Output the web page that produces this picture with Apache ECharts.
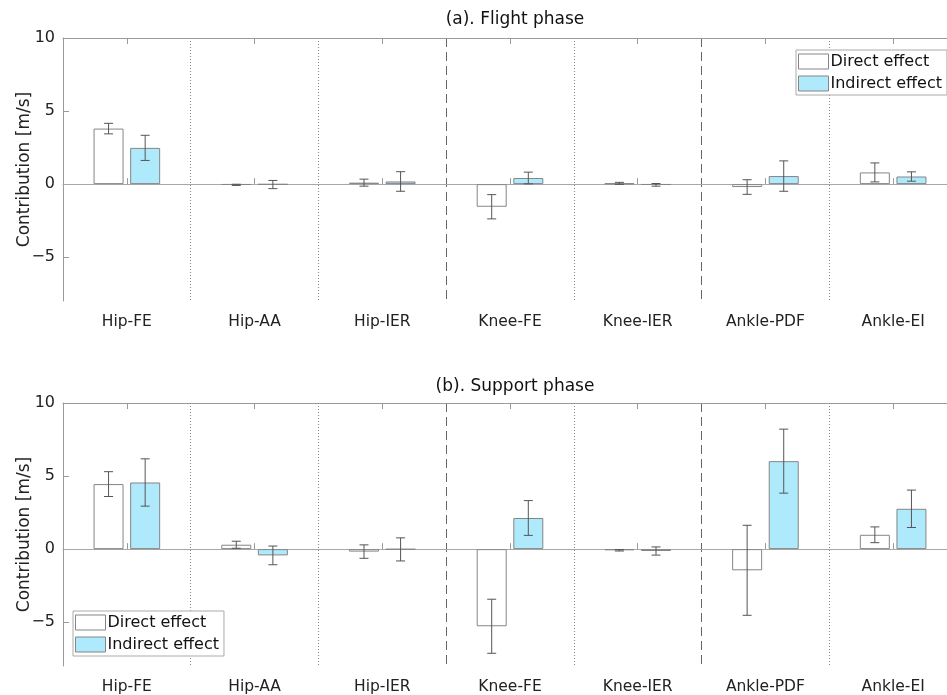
<!DOCTYPE html>
<html>
<head>
<meta charset="utf-8">
<script src="https://cdn.jsdelivr.net/npm/echarts@6/dist/echarts.min.js"></script>
<style>
html,body{margin:0;padding:0;background:#fff;}
#chart{width:947px;height:695px;}
</style>
</head>
<body>
<div id="chart"></div>
<script>
const categories = ['Hip-FE','Hip-AA','Hip-IER','Knee-FE','Knee-IER','Ankle-PDF','Ankle-EI'];
const yTicks = [-5, 0, 5, 10];
const seriesNames = ['Direct effect', 'Indirect effect'];
const titles = ['(a). Flight phase', '(b). Support phase'];

const flightDirect      = [3.80, -0.05, 0.10, -1.55, 0.05, -0.20, 0.80];
const flightDirectErr   = [0.36, 0.04, 0.24, 0.83, 0.07, 0.50, 0.65];
const flightIndirect    = [2.48, -0.03, 0.18, 0.42, -0.05, 0.55, 0.52];
const flightIndirectErr = [0.86, 0.28, 0.67, 0.40, 0.09, 1.04, 0.32];

const supportDirect      = [4.45, 0.30, -0.17, -5.28, -0.08, -1.45, 0.98];
const supportDirectErr   = [0.85, 0.24, 0.46, 1.85, 0.05, 3.08, 0.54];
const supportIndirect    = [4.56, -0.43, -0.02, 2.13, -0.13, 6.02, 2.76];
const supportIndirectErr = [1.62, 0.64, 0.79, 1.19, 0.28, 2.19, 1.28];

const FONT = '"DejaVu Sans", sans-serif';
const AXIS_COLOR = '#9a9a9a';
const BAR_W = 30;
const BAR_GAP = 0.22;
const CYAN = '#aeeafb';

const chart = echarts.init(document.getElementById('chart'), null, {renderer: 'canvas'});

function errData(mean, err) {
  return mean.map((m, i) => [i, m - err[i], m + err[i]]);
}
function errSeries(gi, mean, err, sign) {
  const off = sign * (BAR_W + BAR_W * BAR_GAP) / 2;
  return {
    type: 'custom', xAxisIndex: gi * 2, yAxisIndex: gi, z: 5, silent: true,
    data: errData(mean, err),
    renderItem: function (params, api) {
      const x = api.value(0);
      const lo = api.coord([x, api.value(1)]);
      const hi = api.coord([x, api.value(2)]);
      const cx = lo[0] + off;
      const cap = 4.5;
      const st = {stroke: '#555', lineWidth: 1, fill: null};
      return {type: 'group', children: [
        {type: 'line', shape: {x1: cx, y1: lo[1], x2: cx, y2: hi[1]}, style: st},
        {type: 'line', shape: {x1: cx - cap, y1: lo[1], x2: cx + cap, y2: lo[1]}, style: st},
        {type: 'line', shape: {x1: cx - cap, y1: hi[1], x2: cx + cap, y2: hi[1]}, style: st}
      ]};
    }
  };
}

const grids = [
  {left: 63, top: 38, height: 263, width: 894, containLabel: false, outerBoundsMode: 'none'},
  {left: 63, top: 403, height: 263, width: 894, containLabel: false, outerBoundsMode: 'none'}
];
const xAxes = [], yAxes = [], series = [];
const dotted = [1, 2, 4, 6], dashed = [3, 5];
[0, 1].forEach(gi => {
  xAxes.push({
    type: 'category', gridIndex: gi, data: categories, position: 'bottom',
    axisLine: {show: true, lineStyle: {color: AXIS_COLOR}},
    axisTick: {show: true, inside: true, alignWithLabel: true, length: 6, lineStyle: {color: AXIS_COLOR}},
    axisLabel: {fontFamily: FONT, fontSize: 15.5, color: '#222', margin: 13},
    splitLine: {show: true, interval: (i) => dotted.indexOf(i) >= 0,
      lineStyle: {color: '#888', type: [1, 2], width: 1}}
  });
  xAxes.push({
    type: 'category', gridIndex: gi, data: categories, position: 'top',
    axisLine: {show: true, lineStyle: {color: AXIS_COLOR}},
    axisTick: {show: true, inside: true, alignWithLabel: true, length: 6, lineStyle: {color: AXIS_COLOR}},
    axisLabel: {show: false},
    splitLine: {show: true, interval: (i) => dashed.indexOf(i) >= 0,
      lineStyle: {color: '#666', type: [9, 5], width: 1}}
  });
  yAxes.push({
    type: 'value', gridIndex: gi, min: -8, max: 10,
    name: 'Contribution [m/s]', nameLocation: 'middle', nameGap: 30, nameMoveOverlap: false,
    nameTextStyle: {fontFamily: FONT, fontSize: 17, color: '#222'},
    axisLine: {show: true, lineStyle: {color: AXIS_COLOR}},
    axisTick: {show: true, inside: true, length: 6, customValues: yTicks, lineStyle: {color: AXIS_COLOR}},
    axisLabel: {fontFamily: FONT, fontSize: 16, color: '#222', customValues: yTicks, margin: 8,
      formatter: v => (v < 0 ? '\u2212' + Math.abs(v) : String(v))},
    splitLine: {show: false}
  });
});

const sets = [
  [flightDirect, flightDirectErr, flightIndirect, flightIndirectErr],
  [supportDirect, supportDirectErr, supportIndirect, supportIndirectErr]
];
sets.forEach((s, gi) => {
  series.push({
    name: seriesNames[0], type: 'bar', xAxisIndex: gi * 2, yAxisIndex: gi,
    data: s[0], barWidth: BAR_W, barGap: (BAR_GAP * 100) + '%',
    itemStyle: {color: '#ffffff', borderColor: '#858585', borderWidth: 1},
    emphasis: {disabled: true},
    markLine: {silent: true, symbol: 'none', label: {show: false}, z: 1,
      lineStyle: {color: '#a8a8a8', type: 'solid', width: 1},
      data: [{yAxis: 0}]}
  });
  series.push({
    name: seriesNames[1], type: 'bar', xAxisIndex: gi * 2, yAxisIndex: gi,
    data: s[2], barWidth: BAR_W, barGap: (BAR_GAP * 100) + '%',
    itemStyle: {color: CYAN, borderColor: '#858585', borderWidth: 1},
    emphasis: {disabled: true}
  });
  series.push(errSeries(gi, s[0], s[1], -1));
  series.push(errSeries(gi, s[2], s[3], 1));
});

const legendBase = {
  orient: 'vertical', data: seriesNames, icon: 'rect', itemWidth: 30, itemHeight: 15,
  itemGap: 5, selectedMode: false, borderColor: '#aaa', borderWidth: 1, padding: [3, 5, 3, 2],
  backgroundColor: '#fff',
  itemStyle: {borderWidth: 1, borderColor: '#858585'},
  textStyle: {fontFamily: FONT, fontSize: 16, color: '#111', lineHeight: 17, padding: [0, 0, 0, -3]}
};

chart.setOption({
  animation: false,
  title: [
    {text: titles[0], left: 510, top: 6, textAlign: 'center',
      textStyle: {fontFamily: FONT, fontSize: 17, fontWeight: 'normal', color: '#111'}},
    {text: titles[1], left: 510, top: 373, textAlign: 'center',
      textStyle: {fontFamily: FONT, fontSize: 17, fontWeight: 'normal', color: '#111'}}
  ],
  legend: [
    Object.assign({}, legendBase, {left: 796, top: 50}),
    Object.assign({}, legendBase, {left: 73, top: 611})
  ],
  grid: grids,
  xAxis: xAxes,
  yAxis: yAxes,
  series: series
});
</script>
</body>
</html>
